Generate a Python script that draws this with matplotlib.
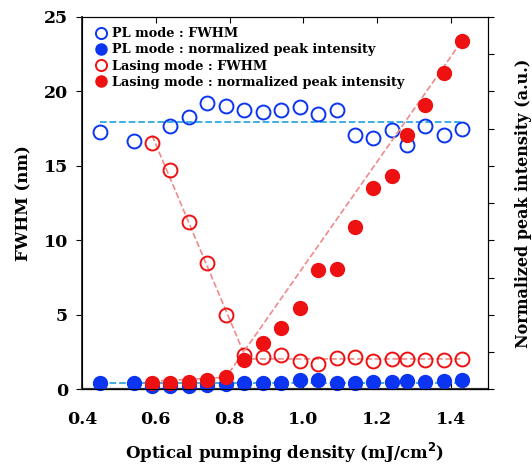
import matplotlib.pyplot as plt
import numpy as np

# pumping densities (mJ/cm^2)
x_pl = [0.45, 0.54, 0.64, 0.69, 0.74, 0.79, 0.84, 0.89, 0.94, 0.99,
        1.04, 1.09, 1.14, 1.19, 1.24, 1.28, 1.33, 1.38, 1.43]
fwhm_pl = [17.3, 16.7, 17.7, 18.3, 19.2, 19.0, 18.75, 18.6, 18.75, 18.95,
           18.5, 18.75, 17.1, 16.9, 17.4, 16.4, 17.7, 17.1, 17.5]

x_pl_int = [0.45, 0.54, 0.59, 0.64, 0.69, 0.74, 0.79, 0.84, 0.89, 0.94,
            0.99, 1.04, 1.09, 1.14, 1.19, 1.24, 1.28, 1.33, 1.38, 1.43]
int_pl = [0.018, 0.016, 0.008, 0.008, 0.010, 0.012, 0.014, 0.016, 0.018, 0.016,
          0.026, 0.026, 0.016, 0.018, 0.020, 0.020, 0.022, 0.020, 0.022, 0.026]

x_las = [0.59, 0.64, 0.69, 0.74, 0.79, 0.84, 0.89, 0.94, 0.99, 1.04,
         1.09, 1.14, 1.19, 1.24, 1.28, 1.33, 1.38, 1.43]
fwhm_las = [16.5, 14.7, 11.2, 8.5, 5.0, 2.3, 2.2, 2.3, 1.9, 1.7,
            2.1, 2.15, 1.9, 2.0, 2.0, 1.95, 1.95, 2.05]
int_las = [0.016, 0.016, 0.019, 0.024, 0.032, 0.078, 0.124, 0.164, 0.218, 0.320,
           0.324, 0.436, 0.540, 0.572, 0.684, 0.764, 0.848, 0.936]

plt.rcParams['font.family'] = 'DejaVu Serif'
plt.rcParams['font.weight'] = 'bold'

blue = '#0b35f0'
red = '#ee1111'
lblue = '#2fa8e0'
lred = '#f08a8a'

fig = plt.figure(figsize=(5.32, 4.69), dpi=100)
ax = fig.add_axes([0.154, 0.170, 0.763, 0.794])
ax2 = ax.twinx()

# guide lines derived from the data
pl_level = np.mean(fwhm_pl)
ax.plot([x_pl[0], x_pl[-1]], [pl_level, pl_level], ls='--', color=lblue, lw=1.3, zorder=1)
ax2.plot([x_pl_int[0], x_pl_int[-1]], [np.mean(int_pl)] * 2, ls='--', color=lblue, lw=1.3, zorder=1)

xl = np.array(x_las)
fl = np.array(fwhm_las)
pf = np.polyfit(xl[:6], fl[:6], 1)
flat = fl[5:].mean()
xc = (flat - pf[1]) / pf[0]
ax.plot([xl[0], xc, xl[-1]], [np.polyval(pf, xl[0]), flat, flat], ls='--', color=lred, lw=1.2, zorder=1)

il = np.array(int_las)
ax2.plot([xl[0], xl[4], xl[-1]], [il[:5].mean(), il[4], il[-1]], ls='--', color=lred, lw=1.2, zorder=1)

ms = 10
ax.plot(x_pl, fwhm_pl, 'o', mfc='none', mec=blue, ms=ms, mew=1.4, clip_on=False)
ax2.plot(x_pl_int, int_pl, 'o', color=blue, ms=ms, clip_on=False)
ax.plot(x_las, fwhm_las, 'o', mfc='none', mec=red, ms=ms, mew=1.4, clip_on=False)
ax2.plot(x_las, int_las, 'o', color=red, ms=ms, clip_on=False)

ax.set_xlim(0.4, 1.5)
ax.set_ylim(0, 25)
ax2.set_ylim(0, 1)
ax.set_xticks([0.4, 0.6, 0.8, 1.0, 1.2, 1.4])
ax.set_yticks([0, 5, 10, 15, 20, 25])
ax2.set_yticks(np.arange(0, 1.01, 0.1))
ax2.set_yticklabels([])
ax.tick_params(axis='x', top=True, labelsize=12.5, length=4, pad=16, direction='in')
ax.tick_params(axis='y', labelsize=12.5, length=4, pad=6)
ax2.tick_params(axis='y', length=4)

for s in ax.spines.values():
    s.set_color('#333333')
ax.spines['bottom'].set_linewidth(1.6)
ax.spines['left'].set_linewidth(1.4)

ax.set_ylabel('FWHM (nm)', fontsize=12, fontweight='bold', labelpad=8)
ax2.set_ylabel('Normalized peak intensity (a.u.)', fontsize=11.5, fontweight='bold', labelpad=12)
ax.set_xlabel('Optical pumping density (mJ/cm$^\\mathbf{2}$)', fontsize=12, fontweight='bold', labelpad=9)

h = [
    plt.Line2D([], [], marker='o', ls='none', mfc='none', mec=blue, ms=8, mew=1.4),
    plt.Line2D([], [], marker='o', ls='none', color=blue, ms=8),
    plt.Line2D([], [], marker='o', ls='none', mfc='none', mec=red, ms=8, mew=1.4),
    plt.Line2D([], [], marker='o', ls='none', color=red, ms=8),
]
labels = ['PL mode : FWHM', 'PL mode : normalized peak intensity',
          'Lasing mode : FWHM', 'Lasing mode : normalized peak intensity']
ax.legend(h, labels, loc='upper left', frameon=False, fontsize=9.3,
          handletextpad=0.15, borderaxespad=0.5, labelspacing=0.25, handlelength=1.4,
          borderpad=0.3)

fig.savefig('out.png', dpi=100)
